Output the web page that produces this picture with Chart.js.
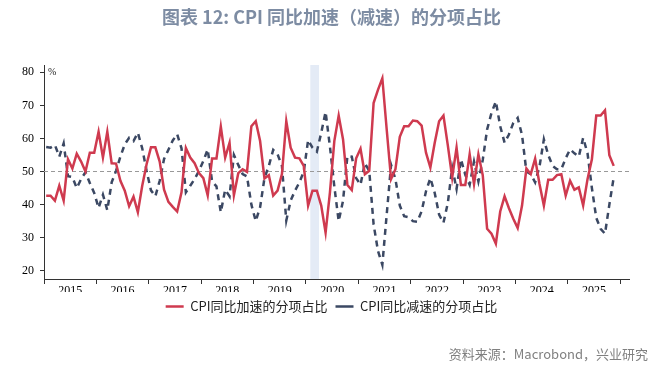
<!DOCTYPE html>
<html>
<head>
<meta charset="utf-8">
<script src="https://cdn.jsdelivr.net/npm/chart.js@4.4.1/dist/chart.umd.min.js"></script>
<style>
html, body { margin: 0; padding: 0; background: #fff; }
</style>
</head>
<body>
<canvas id="chart" width="671" height="367"></canvas>
<script>
// monthly shares, Jan 2015 .. Nov 2025
var accel = [
	42.7, 42.7, 41.2, 45.7, 41.2, 53.7, 50.9, 55.4, 53.0, 50.0, 55.7, 55.7,
	62.0, 54.2, 62.0, 52.5, 52.4, 47.2, 44.2, 39.5, 42.4, 37.7, 45.7, 52.2,
	57.3, 57.3, 53.0, 44.5, 40.8, 39.3, 37.9, 43.7, 57.1, 54.2, 52.5, 49.5,
	48.0, 42.8, 53.9, 53.9, 63.6, 54.2, 58.7, 42.8, 49.5, 50.7, 49.9, 63.7,
	65.2, 59.2, 47.9, 48.9, 42.7, 44.2, 49.2, 65.2, 57.2, 54.2, 54.0, 51.7,
	39.7, 44.2, 44.2, 39.7, 31.5, 43.7, 59.2, 66.9, 59.7, 45.9, 44.4, 54.0,
	56.9, 49.2, 50.2, 70.7, 74.7, 78.2, 62.7, 47.7, 50.7, 60.5, 63.7, 63.7,
	65.4, 65.2, 63.9, 55.7, 51.2, 58.7, 65.2, 66.9, 57.9, 48.2, 57.2, 45.9,
	45.9, 55.2, 46.2, 55.2, 48.9, 32.7, 31.2, 28.2, 37.9, 42.5, 38.9, 35.7,
	32.9, 39.7, 50.9, 49.2, 53.9, 46.2, 39.7, 47.5, 47.5, 48.9, 49.2, 42.7,
	47.2, 44.5, 45.2, 39.7, 47.7, 53.7, 66.9, 66.9, 68.5, 54.9, 51.7
];
var decel = [
	57.4, 57.2, 58.0, 54.5, 58.5, 48.6, 48.3, 45.0, 47.7, 49.8, 46.5, 43.5,
	39.0, 43.0, 38.3, 46.7, 50.2, 54.5, 58.2, 60.2, 59.2, 61.7, 57.0, 50.2,
	44.3, 42.5, 47.2, 53.8, 56.6, 59.4, 61.3, 57.0, 43.7, 45.7, 47.7, 50.2,
	53.2, 56.7, 47.0, 45.5, 37.7, 44.5, 42.5, 55.0, 52.0, 49.2, 48.5, 40.0,
	35.0, 39.2, 48.0, 51.7, 56.5, 55.2, 51.7, 35.2, 41.2, 44.2, 46.7, 50.0,
	59.5, 57.2, 56.0, 61.7, 68.0, 57.5, 45.5, 35.0, 41.2, 54.7, 54.5, 48.0,
	46.0, 52.5, 50.2, 34.0, 26.0, 21.8, 37.0, 52.0, 47.7, 39.7, 36.5, 36.2,
	35.0, 34.8, 38.0, 44.0, 48.0, 43.5, 37.0, 34.5, 40.5, 51.2, 44.7, 53.7,
	49.0, 46.0, 53.0, 47.0, 53.5, 62.7, 67.7, 71.2, 63.7, 58.7, 61.2, 64.7,
	66.2, 61.0, 50.0, 49.2, 46.7, 51.5, 59.7, 55.0, 51.7, 50.7, 50.7, 54.0,
	56.7, 55.5, 54.5, 60.2, 55.5, 45.0, 36.0, 32.7, 31.2, 40.0, 48.2
];
var years = ['2015','2016','2017','2018','2019','2020','2021','2022','2023','2024','2025'];
var shadeFrom = 61, shadeTo = 63; // Feb-Mar 2020, in months since Jan 2015
var refLine = 50;

function toPoints(arr) {
	var pts = [];
	for (var i = 0; i < arr.length; i++) {
		pts.push({ x: i + 0.5, y: arr[i] });
	}
	return pts;
}

var extras = {
	id: 'extras',
	beforeDatasetsDraw: function (chart) {
		var ctx = chart.ctx, area = chart.chartArea, sx = chart.scales.x, sy = chart.scales.y;
		var x1 = sx.getPixelForValue(shadeFrom), x2 = sx.getPixelForValue(shadeTo);
		ctx.save();
		ctx.fillStyle = '#e4ebf6';
		ctx.fillRect(x1, area.top, x2 - x1, area.bottom - area.top);
		var y50 = sy.getPixelForValue(refLine);
		ctx.strokeStyle = '#999999';
		ctx.lineWidth = 1.2;
		ctx.setLineDash([4, 3]);
		ctx.beginPath();
		ctx.moveTo(area.left, y50);
		ctx.lineTo(area.right, y50);
		ctx.stroke();
		ctx.restore();
	},
	afterDraw: function (chart) {
		var ctx = chart.ctx, area = chart.chartArea;
		ctx.save();
		ctx.fillStyle = '#222';
		ctx.font = '10px "Liberation Serif"';
		ctx.textBaseline = 'middle';
		ctx.fillText('%', area.left + 4, area.top + 7);
		ctx.restore();
	}
};

var tickFont = { family: 'Liberation Serif', size: 12 };

new Chart(document.getElementById('chart'), {
	type: 'line',
	data: {
		datasets: [{
			label: 'CPI同比加速的分项占比',
			data: toPoints(accel),
			borderColor: '#cf3a4f',
			backgroundColor: '#cf3a4f',
			borderWidth: 2.5,
			pointRadius: 0,
			tension: 0
		}, {
			label: 'CPI同比减速的分项占比',
			data: toPoints(decel),
			borderColor: '#3b4863',
			backgroundColor: '#3b4863',
			borderWidth: 2.5,
			borderDash: [6, 5],
			pointRadius: 0,
			tension: 0
		}]
	},
	options: {
		responsive: false,
		animation: false,
		layout: { padding: { left: 15, right: 23, top: 0, bottom: 0 } },
		scales: {
			x: {
				type: 'linear',
				position: 'bottom',
				min: 0,
				max: 134,
				weight: 0,
				ticks: { display: false, stepSize: 12, includeBounds: false },
				grid: { drawOnChartArea: false, tickLength: 5, color: '#333' },
				border: { color: '#333' },
				afterFit: function (s) { s.height = 5; }
			},
			x2: {
				type: 'linear',
				position: 'bottom',
				min: 0,
				max: 134,
				weight: 1,
				grid: { display: false, drawTicks: false },
				border: { display: false },
				ticks: {
					font: tickFont, color: '#000', padding: 0, maxRotation: 0, autoSkip: false,
					callback: function (v, i) { return years[i]; }
				},
				afterBuildTicks: function (s) {
					s.ticks = years.map(function (y, i) { return { value: 6 + 12 * i }; });
				},
				afterFit: function (s) { s.height = 8; }
			},
			y: {
				position: 'left',
				min: 17.5,
				max: 82.2,
				ticks: { stepSize: 10, includeBounds: false, font: tickFont, color: '#000', padding: 6 },
				grid: { drawOnChartArea: false, tickLength: 4, color: '#333' },
				border: { color: '#333' },
				afterFit: function (s) { s.width = 29; }
			},
			yR: {
				position: 'right',
				ticks: { display: false },
				grid: { display: false },
				border: { display: false },
				afterFit: function (s) { s.width = 19; }
			}
		},
		plugins: {
			title: {
				display: true,
				text: '图表 12: CPI 同比加速（减速）的分项占比',
				color: '#7d8ca3',
				font: { family: 'Noto Sans CJK SC', size: 18, weight: 'bold' },
				padding: { top: 6, bottom: 37.4 }
			},
			subtitle: {
				display: true,
				position: 'bottom',
				align: 'end',
				text: '资料来源：Macrobond，兴业研究',
				color: '#808080',
				font: { family: 'Noto Sans CJK SC', size: 13 },
				padding: { top: 23.2, bottom: 5.2 }
			},
			legend: {
				position: 'bottom',
				labels: {
					usePointStyle: true,
					pointStyle: 'line',
					pointStyleWidth: 18,
					color: '#222',
					font: { family: 'Noto Sans CJK SC', size: 13 },
					padding: 8
				}
			},
			tooltip: { enabled: false }
		}
	},
	plugins: [extras]
});
</script>
</body>
</html>
